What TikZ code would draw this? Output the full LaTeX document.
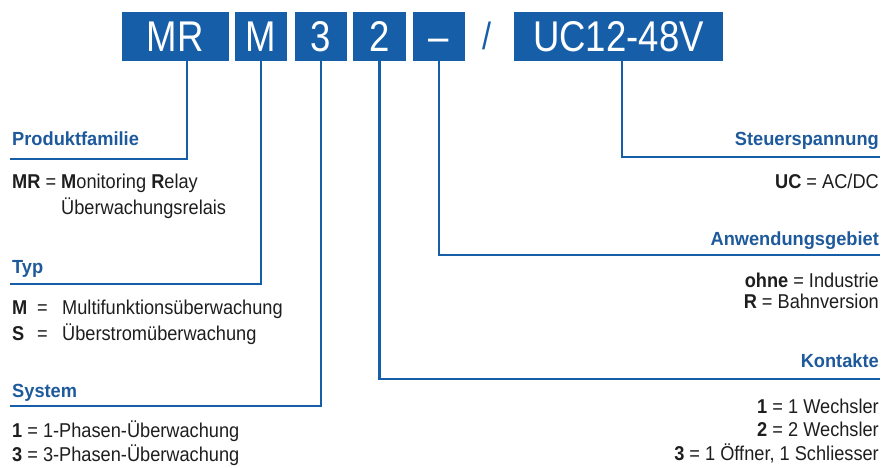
\documentclass[tikz,border=0pt]{standalone}
\usepackage{fontspec}
\setmainfont{Liberation Sans}
\newfontfamily\bodyfont{Liberation Sans}[FakeStretch=0.91]
\newfontfamily\headfont{Liberation Sans}[FakeStretch=0.96]
\newfontfamily\boxfont{Liberation Sans}[FakeStretch=0.85]
\definecolor{mrblue}{RGB}{22,94,168}
\definecolor{hblue}{RGB}{30,90,155}
\definecolor{txt}{RGB}{30,30,30}
\begin{document}
\begin{tikzpicture}[x=1pt,y=-1pt,
  box/.style={fill=mrblue, text=white, inner sep=0pt, minimum height=49pt,
    text height=31pt, text depth=0pt, font=\boxfont\fontsize{43}{43}\selectfont},
  conn/.style={draw=mrblue, line width=2.6pt},
  head/.style={text=hblue, inner sep=0pt, font=\headfont\bfseries\fontsize{19}{19}\selectfont},
  body/.style={text=txt, inner sep=0pt, font=\bodyfont\fontsize{20}{20}\selectfont},
]
\useasboundingbox (0,0) rectangle (883,468);

% code boxes
\node[box, minimum width=107pt] (mr) at (175.3,36.5) {MR};
\node[box, minimum width=52pt] (m) at (261,36.5) {M};
\node[box, minimum width=52pt] (s3) at (321,36.5) {3};
\node[box, minimum width=53pt] (k2) at (379.5,36.5) {2};
\node[box, minimum width=52pt] (dash) at (439,36.5) {–};
\node[text=mrblue, inner sep=0pt, anchor=base, font=\boxfont\fontsize{38}{38}\selectfont] (slash) at (487,50) {/};
\node[box, minimum width=209pt] (uc) at (618.5,36.5) {UC12-48V};

% left headings
\node[head, anchor=base west] (pf) at (12,146) {Produktfamilie};
\node[head, anchor=base west] (typ) at (12,273) {Typ};
\node[head, anchor=base west] (sys) at (12,397) {System};

% right headings
\node[head, anchor=base east] (st) at (879,146) {Steuerspannung};
\node[head, anchor=base east] (an) at (879,245) {Anwendungsgebiet};
\node[head, anchor=base east] (ko) at (879,367) {Kontakte};

% connector corners
\coordinate (pfc) at (187,159);  \coordinate (pfl) at (10,159);
\coordinate (typl) at (10,284);
\coordinate (sysl) at (10,406);
\coordinate (stc) at (622,157);  \coordinate (str) at (880,157);
\coordinate (anr) at (880,255);
\coordinate (kor) at (880,379);

\draw[conn] (mr.south -| pfc) -- (pfc) -- (pfl);
\draw[conn] (m.south) |- (typl);
\draw[conn] (s3.south) |- (sysl);
\draw[conn] (uc.south -| stc) -- (stc) -- (str);
\draw[conn] (dash.south) |- (anr);
\draw[conn] (k2.south) |- (kor);

% left texts
\node[body, anchor=base west] (mrt1) at (12,188) {\textbf{MR} = \textbf{M}onitoring \textbf{R}elay};
\node[body, anchor=base west] (mrt2) at (61,214) {Überwachungsrelais};

\node[body, anchor=base west] (tmk) at (12,314) {\textbf{M}};
\node[body, anchor=base west] (tme) at (37,314) {=};
\node[body, anchor=base west] (tmt) at (62,314) {Multifunktionsüberwachung};
\node[body, anchor=base west] (tsk) at (12,340) {\textbf{S}};
\node[body, anchor=base west] (tse) at (37,340) {=};
\node[body, anchor=base west] (tst) at (62,340) {Überstromüberwachung};

\node[body, anchor=base west] (sy1) at (12,437) {\textbf{1} = 1-Phasen-Überwachung};
\node[body, anchor=base west] (sy3) at (12,461) {\textbf{3} = 3-Phasen-Überwachung};

% right texts
\node[body, anchor=base east] (uct) at (879,188) {\textbf{UC} = AC/DC};
\node[body, anchor=base east] (an1) at (879,287) {\textbf{ohne} = Industrie};
\node[body, anchor=base east] (an2) at (879,308) {\textbf{R} = Bahnversion};
\node[body, anchor=base east] (ko1) at (879,413) {\textbf{1} = 1 Wechsler};
\node[body, anchor=base east] (ko2) at (879,436) {\textbf{2} = 2 Wechsler};
\node[body, anchor=base east] (ko3) at (879,460) {\textbf{3} = 1 Öffner, 1 Schliesser};
\end{tikzpicture}
\end{document}
